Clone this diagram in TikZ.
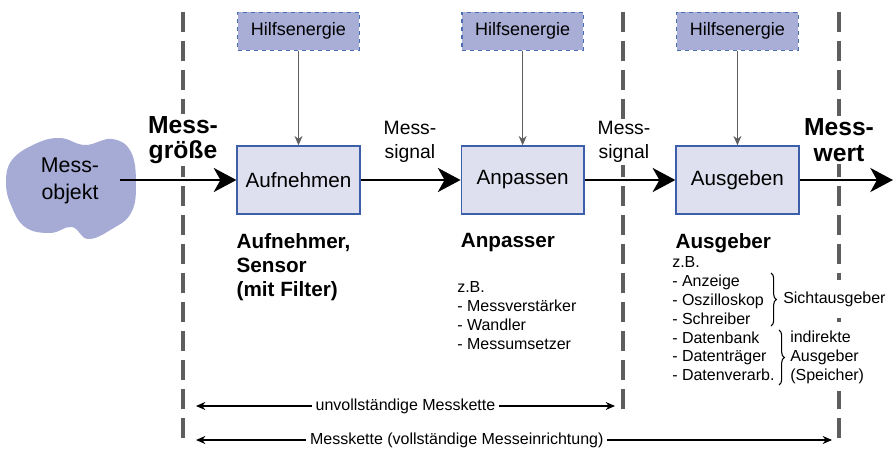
\documentclass[tikz,border=0pt]{standalone}
\usepackage{fontspec}
\setmainfont{Liberation Sans}
\usetikzlibrary{positioning, arrows.meta, calc, decorations.pathreplacing}

\definecolor{blockFill}{HTML}{DEE0F0}
\definecolor{blockBorder}{HTML}{3D5FAA}
\definecolor{hilfsFill}{HTML}{A9AED6}
\definecolor{hilfsBorder}{HTML}{4A6DB4}
\definecolor{objektFill}{HTML}{A6ABD6}
\definecolor{grenzGrau}{HTML}{5E5E5E}
\def\fs#1{\fontsize{#1}{#1}\selectfont}

\begin{document}
\begin{tikzpicture}[
    x=0.75pt, y=-0.75pt,
    block/.style={rectangle, minimum width=92pt, minimum height=51pt, text centered, draw=blockBorder, line width=1.1pt, fill=blockFill, font=\fontsize{15.5}{18}\selectfont},
    hilfs/.style={rectangle, minimum width=91pt, minimum height=28.5pt, text centered, draw=hilfsBorder, dashed, line width=0.8pt, fill=hilfsFill, font=\fontsize{13.5}{16}\selectfont},
    groesse/.style={align=center, fill=white, inner sep=2pt, font=\fontsize{18.5}{19}\selectfont\bfseries},
    signalText/.style={align=center, fill=white, inner sep=2pt, font=\fontsize{14.5}{18}\selectfont},
    titel/.style={align=left, inner sep=0pt, font=\fontsize{15.5}{18}\selectfont\bfseries},
    liste/.style={align=left, inner sep=0pt, font=\fontsize{12}{14.2}\selectfont},
    signal/.style={line width=2.2pt, -{Stealth[length=17pt, width=18pt, inset=5pt]}},
    feed/.style={draw=grenzGrau, line width=0.8pt, -{Stealth[length=7pt, width=6pt]}},
    grenze/.style={draw=grenzGrau, line width=2.5pt, dash pattern=on 15pt off 6.75pt},
    kette/.style={line width=0.8pt, {Stealth[length=7pt, width=6pt]}-{Stealth[length=7pt, width=6pt]}},
    klammer/.style={decorate, decoration={brace, amplitude=4pt}, line width=0.8pt},
]
\useasboundingbox (0,0) rectangle (893,449);

% Grenzen
\draw[grenze] (183,12) -- (183,446);
\draw[grenze] (623,12) -- (623,412);
\draw[grenze] (839,12) -- (839,441);

% Messobjekt
\fill[objektFill] plot[smooth cycle, tension=0.7] coordinates {(12,160) (35,144) (60,138) (85,145) (112,139) (131,152) (136,185) (131,213) (112,229) (88,239) (72,227) (50,233) (25,227) (11,205) (6,182)};
\node[align=center, minimum width=75pt, inner sep=0pt, font=\fontsize{16}{20}\selectfont] (messobjekt) at (70,181) {Mess-\\objekt};

% Kette
\node[block] (aufnehmen) at (298.5,180) {Aufnehmen};
\node[block, right=75pt of aufnehmen] (anpassen) {Anpassen};
\node[block, right=68pt of anpassen] (ausgeben) {Ausgeben};
\coordinate (ende) at (893,180);

\node[hilfs, above=71pt of aufnehmen] (hilfsA) {Hilfsenergie};
\node[hilfs, above=71pt of anpassen] (hilfsB) {Hilfsenergie};
\node[hilfs, above=71pt of ausgeben] (hilfsC) {Hilfsenergie};

% Beschriftung Signale
\node[groesse] (messgroesse) at (183,140) {Mess-\\größe};
\node[signalText] (signalA) at (410,142) {Mess-\\signal};
\node[signalText] (signalB) at (624,142) {Mess-\\signal};
\node[groesse] (messwert) at (839,140) {Mess-\\wert};

% Pfeile
\draw[signal] (messobjekt.east |- aufnehmen.west) -- (aufnehmen.west);
\draw[signal] (aufnehmen) -- (anpassen);
\draw[signal] (anpassen) -- (ausgeben);
\draw[signal] (ausgeben.east) -- (ende);
\draw[feed] (hilfsA) -- (aufnehmen);
\draw[feed] (hilfsB) -- (anpassen);
\draw[feed] (hilfsC) -- (ausgeben);

% Texte unten
\node[titel, anchor=north west] (aufnehmer) at ([yshift=-14pt]aufnehmen.south west) {Aufnehmer,\\Sensor\\(mit Filter)};
\node[titel, anchor=north west] (anpasser) at ([yshift=-14pt]anpassen.south west) {Anpasser};
\node[liste, anchor=north west] (anpasserListe) at (457,281) {z.B.\\- Messverstärker\\- Wandler\\- Messumsetzer};
\node[titel, anchor=north west] (ausgeber) at ([yshift=-14pt]ausgeben.south west) {Ausgeber};
\node[liste, anchor=north west] (ausgeberListe) at (672,256) {z.B.\\- Anzeige\\- Oszilloskop\\- Schreiber\\- Datenbank\\- Datenträger\\- Datenverarb.};

% Klammern
\coordinate (sichtOben) at (771,273);
\coordinate (sichtUnten) at (771,326);
\coordinate (indirOben) at (779,330);
\coordinate (indirUnten) at (779,385);
\draw[klammer] (sichtOben) -- (sichtUnten);
\draw[klammer] (indirOben) -- (indirUnten);
\node[liste, anchor=west, fill=white, inner xsep=0pt, inner ysep=9pt] (sicht) at (783,299) {Sichtausgeber};
\node[liste, anchor=west, fill=white, inner xsep=0pt, inner ysep=6pt] (indirekt) at (790,357) {indirekte\\Ausgeber\\(Speicher)};

% Messkette
\coordinate (ketteA) at (196,406);
\coordinate (ketteB) at (615,406);
\coordinate (ganzA) at (196,440);
\coordinate (ganzB) at (832,440);
\draw[kette] (ketteA) -- node[fill=white, inner sep=3pt, font=\fs{12}] (unvollst) {unvollständige Messkette} (ketteB);
\draw[kette] (ganzA) -- node[pos=0.41, fill=white, inner sep=3pt, font=\fs{12}] (vollst) {Messkette (vollständige Messeinrichtung)} (ganzB);

\end{tikzpicture}
\end{document}
